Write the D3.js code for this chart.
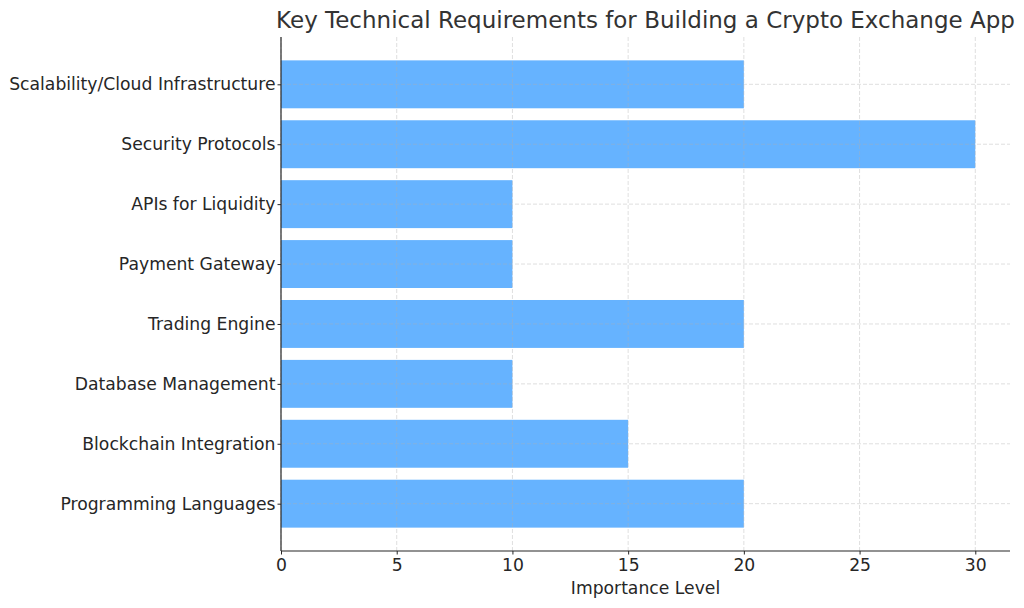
<!DOCTYPE html>
<html><head><meta charset="utf-8">
<script src="https://cdn.jsdelivr.net/npm/d3@7"></script>
<style>body{margin:0;background:#fff}text{font-family:"DejaVu Sans",sans-serif}</style>
</head><body>
<svg id="c" width="1024" height="608"></svg>
<script>
const categories = ["Programming Languages","Blockchain Integration","Database Management","Trading Engine","Payment Gateway","APIs for Liquidity","Security Protocols","Scalability/Cloud Infrastructure"];
const values = [20,15,10,20,10,10,30,20];
const xTicks = [0,5,10,15,20,25,30];
const title = "Key Technical Requirements for Building a Crypto Exchange App";
const xLabel = "Importance Level";

const svg = d3.select("#c");
const L=281, R=1010, T=37, B=551;
const FS=17.2;
const x = d3.scaleLinear().domain([0,31.5]).range([L,R]);
const y = d3.scaleLinear().domain([-0.79,7.79]).range([B,T]);
const bh = y(0)-y(0.8);

// bars
svg.selectAll("rect.bar").data(values).enter().append("rect")
  .attr("x", x(0)).attr("y",(d,i)=>y(i+0.4)).attr("width",d=>x(d)-x(0)).attr("height",bh)
  .attr("fill","#66b3ff");

// grid
const g = svg.append("g").attr("stroke","#b0b0b0").attr("stroke-opacity",0.5).attr("stroke-width",0.8).attr("stroke-dasharray","4,2");
xTicks.forEach(t=>g.append("line").attr("x1",x(t)).attr("x2",x(t)).attr("y1",T).attr("y2",B));
categories.forEach((c,i)=>g.append("line").attr("x1",L).attr("x2",R).attr("y1",y(i)).attr("y2",y(i)));

// axes
const xa = svg.append("g").attr("transform",`translate(0,${B})`).call(d3.axisBottom(x).tickValues(xTicks).tickSize(3.5).tickPadding(4));
xa.select(".domain").remove();
xa.selectAll("text").attr("font-size",FS).attr("fill","#262626").attr("font-family","DejaVu Sans");
xa.selectAll("line").attr("stroke","#262626");
const ya = svg.append("g").attr("transform",`translate(${L},0)`).call(d3.axisLeft(y).tickValues(d3.range(categories.length)).tickFormat(i=>categories[i]).tickSize(3.5).tickPadding(2));
ya.select(".domain").remove();
ya.selectAll("text").attr("font-size",FS).attr("fill","#262626").attr("font-family","DejaVu Sans");
ya.selectAll("line").attr("stroke","#262626");

svg.append("line").attr("x1",L).attr("x2",L).attr("y1",T).attr("y2",B).attr("stroke","#262626").attr("stroke-width",1.2);
svg.append("line").attr("x1",L).attr("x2",R).attr("y1",B).attr("y2",B).attr("stroke","#262626").attr("stroke-width",1.2);

svg.append("text").attr("x",(L+R)/2).attr("y",28).attr("text-anchor","middle").attr("font-size",23).attr("fill","#333").text(title);
svg.append("text").attr("x",(L+R)/2).attr("y",594).attr("text-anchor","middle").attr("font-size",FS).attr("fill","#262626").text(xLabel);
</script>
</body></html>
